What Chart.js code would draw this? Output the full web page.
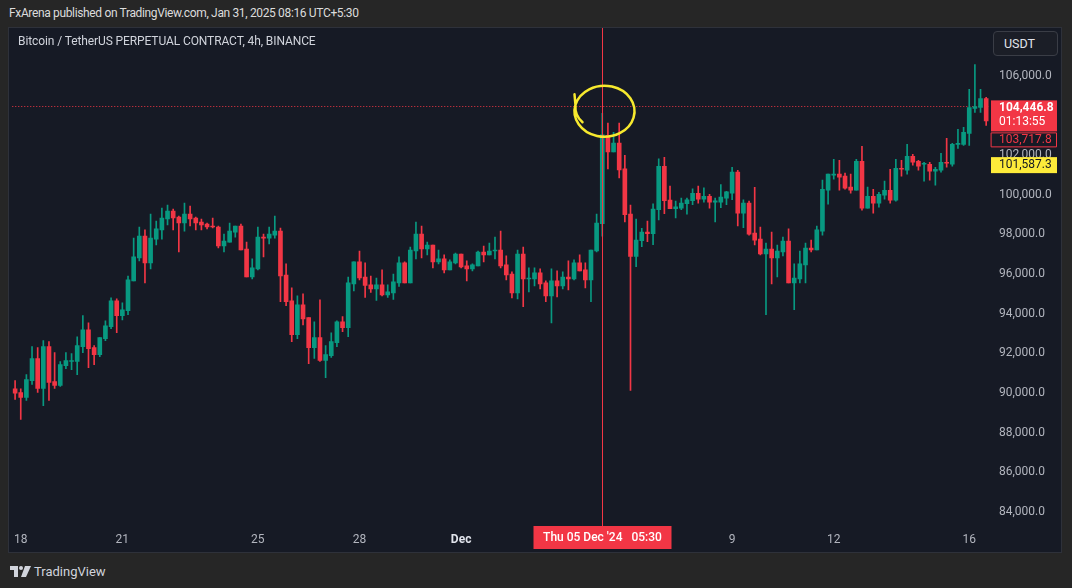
<!DOCTYPE html>
<html>
<head>
<meta charset="utf-8">
<script src="https://cdn.jsdelivr.net/npm/chart.js@4.4.1/dist/chart.umd.min.js"></script>
<style>
  html, body { margin: 0; padding: 0; }
  body {
    width: 1072px; height: 588px; overflow: hidden; position: relative;
    background: #262626; font-family: Roboto, "Liberation Sans", sans-serif;
  }
  .header { position: absolute; left: 9px; top: 6px; font-size: 12px; letter-spacing: -0.35px; color: #dcdcdc; white-space: nowrap; }
  .pane {
    position: absolute; left: 8px; top: 27px; width: 1054px; height: 526px;
    box-sizing: border-box; border: 1px solid #2e313a; background: #161a25;
  }
  .pane canvas { position: absolute; left: 0; top: 0; }
  .title { position: absolute; left: 18px; top: 34px; font-size: 12px; letter-spacing: -0.1px; color: #d1d4dc; white-space: nowrap; }
  .usdt {
    position: absolute; left: 993px; top: 31px; width: 65px; height: 25px; box-sizing: border-box;
    border: 1px solid #3a3d46; border-radius: 4px; background: #1b1e27;
    color: #e0e3eb; font-size: 12.5px; line-height: 23px; padding-left: 10px;
  }
  .footer { position: absolute; left: 10px; top: 563px; height: 16px; display: flex; align-items: center; color: #d1d4dc; font-size: 13px; }
  .footer svg { margin-right: 3px; }
</style>
</head>
<body>
<div class="header">FxArena published on TradingView.com, Jan 31, 2025 08:16 UTC+5:30</div>
<div class="pane"><canvas id="chart" width="1052" height="524"></canvas></div>
<div class="title">Bitcoin / TetherUS PERPETUAL CONTRACT, 4h, BINANCE</div>
<div class="usdt">USDT</div>
<div class="footer">
  <svg width="21" height="11" viewBox="0 0 21 11"><path fill="#d1d4dc" d="M0 0h8v11H4V4H0z"/><circle fill="#d1d4dc" cx="11" cy="2" r="2"/><path fill="#d1d4dc" d="M15 0h6l-5 11h-5z"/></svg>
  <span>TradingView</span>
</div>

<script>
// 4h candles, Nov 17 21:30 -> Dec 16 13:30 (UTC+5:30)
const opens = [
  90210, 90030, 89780, 90630, 91740, 90230, 92340, 90580, 90380, 91380,
  91590, 91590, 92340, 93190, 92290, 91940, 92740, 93340, 94650, 93900,
  94150, 95650, 96810, 97910, 96560, 97760, 98220, 98770, 99170, 98870,
  98570, 99020, 98820, 98620, 98520, 98420, 98370, 97410, 97610, 98110,
  98420, 97260, 95850, 96260, 97860, 97810, 97960, 98160, 95950, 94650,
  92940, 94450, 93800, 92290, 92790, 91640, 91890, 92540, 93590, 93290,
  95500, 96610, 95850, 95450, 95250, 95450, 94950, 95050, 95550, 96560,
  95550, 97160, 98010, 97260, 97460, 96610, 96760, 96210, 96560, 97010,
  96410, 96260, 96410, 97110, 96960, 97160, 97210, 96460, 96000, 95050,
  97010, 95750, 95750, 96060, 95550, 94900, 95650, 95400, 95850, 95750,
  96560, 96210, 95700, 97160, 98530, 102990, 102150, 102600, 101300, 99020,
  96880, 97680, 98110, 98030, 99240, 101430, 99720, 99290, 99320, 99540,
  99690, 100070, 99770, 99920, 99620, 99620, 99820, 100070, 101130, 99070,
  99570, 98060, 97760, 97010, 97260, 96810, 97110, 97660, 95550, 95750,
  96460, 97310, 97210, 98160, 100220, 100980, 101030, 100930, 100380, 100220,
  101680, 99320, 99920, 99570, 99970, 100220, 99720, 101330, 101230, 101930,
  101680, 101530, 101530, 101180, 101230, 101630, 101530, 102530, 102530, 103090,
  104340, 104390, 104840
];
const highs = [
  90630, 90210, 90930, 92340, 92290, 92640, 92590, 92040, 91590, 92040,
  91990, 92840, 93900, 93540, 92390, 92790, 93640, 94800, 94750, 94550,
  95900, 97810, 98370, 98220, 99020, 98670, 99320, 99470, 99270, 98920,
  99570, 99420, 98870, 98770, 98570, 98820, 98420, 98010, 98570, 98420,
  98520, 97610, 96760, 98370, 98010, 98370, 98920, 98320, 96510, 95300,
  94900, 95000, 93800, 93590, 94700, 92390, 93040, 93640, 93850, 95850,
  96610, 97160, 96560, 95900, 95800, 96210, 95450, 96000, 96860, 96610,
  97360, 98620, 98420, 97610, 97460, 97210, 96960, 96710, 97060, 97010,
  96660, 96510, 97160, 97410, 97560, 97860, 98160, 96910, 96110, 97210,
  97360, 96310, 96310, 96260, 95650, 96260, 96160, 96110, 96660, 96710,
  96960, 96560, 97210, 99020, 104100, 103610, 103140, 103610, 101980, 99470,
  98770, 98300, 98670, 99540, 101810, 101880, 100430, 99670, 99820, 99820,
  100290, 100430, 100340, 100020, 99820, 100510, 100170, 101380, 101230, 99740,
  99670, 100370, 98370, 97560, 98110, 97460, 97860, 98270, 96510, 97160,
  97560, 97710, 98420, 100730, 101030, 101780, 101730, 101080, 101030, 101780,
  102430, 100380, 100270, 100120, 100680, 101280, 101780, 101730, 102530, 102030,
  101730, 101630, 101630, 101380, 102080, 102840, 102580, 103290, 103390, 105300,
  106550, 105300, 104900
];
const lows = [
  89680, 88670, 89630, 90430, 90030, 89370, 89630, 90230, 90330, 91230,
  91180, 90930, 92040, 91280, 91430, 91840, 92640, 93240, 93040, 93690,
  93950, 95650, 96660, 95550, 96260, 97460, 97760, 98470, 98220, 97110,
  98160, 98420, 98220, 98220, 98270, 98320, 97310, 97110, 97610, 97860,
  97210, 95850, 95750, 96210, 96860, 97510, 97810, 94600, 94400, 92590,
  92740, 93440, 91480, 91740, 91590, 90780, 91790, 92340, 93090, 92840,
  95150, 95700, 94820, 95070, 94670, 94900, 94820, 94720, 95370, 95550,
  95550, 96760, 96810, 96960, 96310, 96510, 96060, 96210, 96510, 96310,
  95650, 96160, 96410, 96610, 96960, 96760, 96310, 95700, 94800, 94750,
  94350, 95100, 95400, 95250, 94600, 93540, 94850, 95250, 95200, 95700,
  96160, 95300, 94600, 97110, 97910, 101300, 102150, 100840, 98630, 90130,
  96370, 97380, 97630, 97480, 98730, 99040, 99290, 98830, 99240, 99020,
  99490, 99570, 99620, 99320, 98630, 99340, 99500, 99740, 98420, 98330,
  97960, 97460, 96960, 93950, 95500, 95850, 96910, 95550, 94200, 95550,
  95550, 97110, 97210, 97960, 99520, 100780, 100220, 100270, 100070, 100220,
  99220, 99320, 99070, 99370, 99770, 99570, 99670, 100930, 101030, 101480,
  101230, 100680, 100730, 100480, 101130, 101380, 101430, 102330, 102480, 102480,
  104140, 104140, 103490
];
const closes = [
  89990, 89780, 90680, 91740, 90230, 92340, 90530, 90380, 91430, 91640,
  91640, 92390, 93190, 92240, 91940, 92790, 93390, 94650, 93900, 94200,
  95700, 96860, 97910, 96560, 97810, 98270, 98820, 99170, 98820, 98570,
  99020, 98770, 98570, 98470, 98370, 98370, 97410, 97660, 98160, 98420,
  97210, 95850, 96310, 97860, 97810, 98010, 98160, 95900, 94600, 92940,
  94450, 93740, 92290, 92790, 91640, 91940, 92590, 93590, 93290, 95550,
  96610, 95800, 95420, 95250, 95450, 94950, 95100, 95600, 96560, 95550,
  97210, 98010, 97260, 97460, 96610, 96760, 96210, 96610, 97010, 96360,
  96260, 96460, 97110, 96960, 97160, 97210, 96410, 95950, 95050, 97010,
  95750, 95800, 96060, 95500, 94900, 95650, 95400, 95850, 95750, 96560,
  96160, 95700, 97210, 98570, 103010, 102150, 102600, 101250, 98990, 96880,
  97710, 98110, 98030, 99270, 101430, 99690, 99290, 99390, 99570, 99740,
  100070, 99770, 99920, 99620, 99690, 99870, 100140, 101130, 99070, 99570,
  98010, 97710, 97010, 97260, 96810, 97160, 97660, 95550, 95800, 96510,
  97310, 97210, 98220, 100270, 101030, 101030, 100880, 100320, 100220, 101680,
  99320, 99920, 99570, 100020, 100220, 99720, 101330, 101280, 101930, 101630,
  101430, 101580, 101180, 101280, 101630, 101580, 102530, 102580, 103140, 104390,
  104440, 104840, 103720
];

// axis
const yTickValues = [84000, 86000, 88000, 90000, 92000, 94000, 96000, 98000, 100000, 102000, 104000, 106000];
const yMin = 83200;
const yMax = 107530;
const xTickIdx = [1, 19, 43, 61, 79, 127, 145, 169];
const xTickText = ['18', '21', '25', '28', 'Dec', '9', '12', '16'];

// price scale labels / markers
const lastPrice = 104446.8;
const lastPriceText = '104,446.8';
const countdownText = '01:13:55';
const prevCloseText = '103,717.8';
const yellowPrice = 101587.3;
const yellowText = '101,587.3';
const markIdx = 104;
const markText = "Thu 05 Dec '24   05:30";
const circlePrice = 104200;

const GREEN = '#089981';
const RED = '#f23645';

// category labels, one per 4h bar
const labels = [];
const t0 = Date.UTC(2024, 10, 17, 21, 30);
for (let i = 0; i < opens.length; i++) {
    const d = new Date(t0 + i * 4 * 3600 * 1000);
    labels.push(d.toISOString().slice(0, 16));
}

const colors = opens.map((o, i) => closes[i] >= o ? GREEN : RED);

const fmt = v => v.toLocaleString('en-US', { minimumFractionDigits: 1, maximumFractionDigits: 1 });

const overlay = {
    id: 'overlay',
    beforeDatasetsDraw(chart) {
        const { ctx, chartArea, scales } = chart;
        const y = Math.round(scales.y.getPixelForValue(lastPrice)) + 0.5;
        ctx.save();
        ctx.strokeStyle = RED;
        ctx.lineWidth = 1;
        ctx.setLineDash([1, 2]);
        ctx.beginPath();
        ctx.moveTo(chartArea.left, y);
        ctx.lineTo(chartArea.right, y);
        ctx.stroke();
        ctx.restore();
    },
    afterDraw(chart) {
        const { ctx, chartArea, scales } = chart;
        const xs = scales.x, ys = scales.y;
        ctx.save();

        // vertical marker line
        const mx = Math.round(xs.getPixelForValue(markIdx)) + 0.5;
        ctx.strokeStyle = RED;
        ctx.lineWidth = 1;
        ctx.beginPath();
        ctx.moveTo(mx, 0);
        ctx.lineTo(mx, chartArea.bottom);
        ctx.stroke();

        // time label
        ctx.fillStyle = RED;
        ctx.fillRect(mx - 69, chartArea.bottom - 2, 138, 23);
        ctx.fillStyle = '#ffffff';
        ctx.font = '500 12px Roboto, sans-serif';
        ctx.textAlign = 'center';
        ctx.textBaseline = 'middle';
        ctx.fillText(markText, mx, chartArea.bottom + 10);

        // hand drawn circle
        const cx = mx + 2, cy = ys.getPixelForValue(circlePrice);
        ctx.strokeStyle = '#f7e92e';
        ctx.lineWidth = 2.5;
        ctx.lineCap = 'round';
        ctx.lineJoin = 'round';
        ctx.beginPath();
        ctx.moveTo(cx - 30, cy - 17);
        ctx.lineTo(cx - 29, cy - 6);
        ctx.ellipse(cx, cy, 30, 25.5, 0, Math.PI * 1.08, Math.PI * 1.08 - Math.PI * 2.06, true);
        ctx.quadraticCurveTo(cx - 30, cy + 4, cx - 22, cy + 11);
        ctx.stroke();

        // price axis labels
        const bx = chartArea.right + 2, bw = 66;
        const py = ys.getPixelForValue(lastPrice);
        ctx.textAlign = 'left';
        ctx.fillStyle = RED;
        ctx.fillRect(bx, py - 6, bw, 31);
        ctx.fillStyle = '#ffffff';
        ctx.font = 'bold 12px Roboto, sans-serif';
        ctx.fillText(lastPriceText, chartArea.right + 10, py + 2);
        ctx.font = '12px Roboto, sans-serif';
        ctx.fillText(countdownText, chartArea.right + 10, py + 16);

        ctx.fillStyle = '#161a25';
        ctx.fillRect(bx, py + 26, bw, 15);
        ctx.strokeStyle = RED;
        ctx.lineWidth = 1;
        ctx.strokeRect(bx + 0.5, py + 26.5, bw - 1, 14);
        ctx.fillStyle = RED;
        ctx.fillText(prevCloseText, chartArea.right + 10, py + 34);

        const yy = ys.getPixelForValue(yellowPrice);
        ctx.fillStyle = '#fdeb3a';
        ctx.fillRect(bx, yy - 6, bw, 16);
        ctx.fillStyle = '#131722';
        ctx.fillText(yellowText, chartArea.right + 10, yy + 2);

        ctx.restore();
    }
};

const ctx = document.getElementById('chart').getContext('2d');
new Chart(ctx, {
    type: 'bar',
    data: {
        labels: labels,
        datasets: [
            {
                label: 'body',
                data: opens.map((o, i) => [o, closes[i]]),
                backgroundColor: colors,
                barThickness: 4,
                minBarLength: 1,
                grouped: false
            },
            {
                label: 'wick',
                data: lows.map((l, i) => [l, highs[i]]),
                backgroundColor: colors,
                barThickness: 1,
                grouped: false
            }
        ]
    },
    options: {
        responsive: false,
        animation: false,
        devicePixelRatio: 1,
        layout: { padding: 0 },
        plugins: {
            legend: { display: false },
            tooltip: { enabled: false }
        },
        scales: {
            x: {
                offset: true,
                grid: { display: false, drawTicks: false },
                border: { display: false },
                afterBuildTicks: s => { s.ticks = xTickIdx.map(v => ({ value: v })); },
                afterFit: s => { s.height = 24; },
                ticks: {
                    autoSkip: false,
                    maxRotation: 0,
                    padding: 5,
                    color: c => xTickText[c.index] === 'Dec' ? '#e0e3eb' : '#b2b5be',
                    font: c => ({ family: 'Roboto, sans-serif', size: 12, weight: xTickText[c.index] === 'Dec' ? 'bold' : 'normal' }),
                    callback: (v, i) => xTickText[i]
                }
            },
            y: {
                position: 'right',
                min: yMin,
                max: yMax,
                grid: { display: false, drawTicks: false },
                border: { display: false },
                afterBuildTicks: s => { s.ticks = yTickValues.map(v => ({ value: v })); },
                afterFit: s => { s.width = 72; },
                ticks: {
                    padding: 10,
                    color: '#b2b5be',
                    font: { family: 'Roboto, sans-serif', size: 12 },
                    callback: v => fmt(v)
                }
            }
        }
    },
    plugins: [overlay]
});
</script>
</body>
</html>
